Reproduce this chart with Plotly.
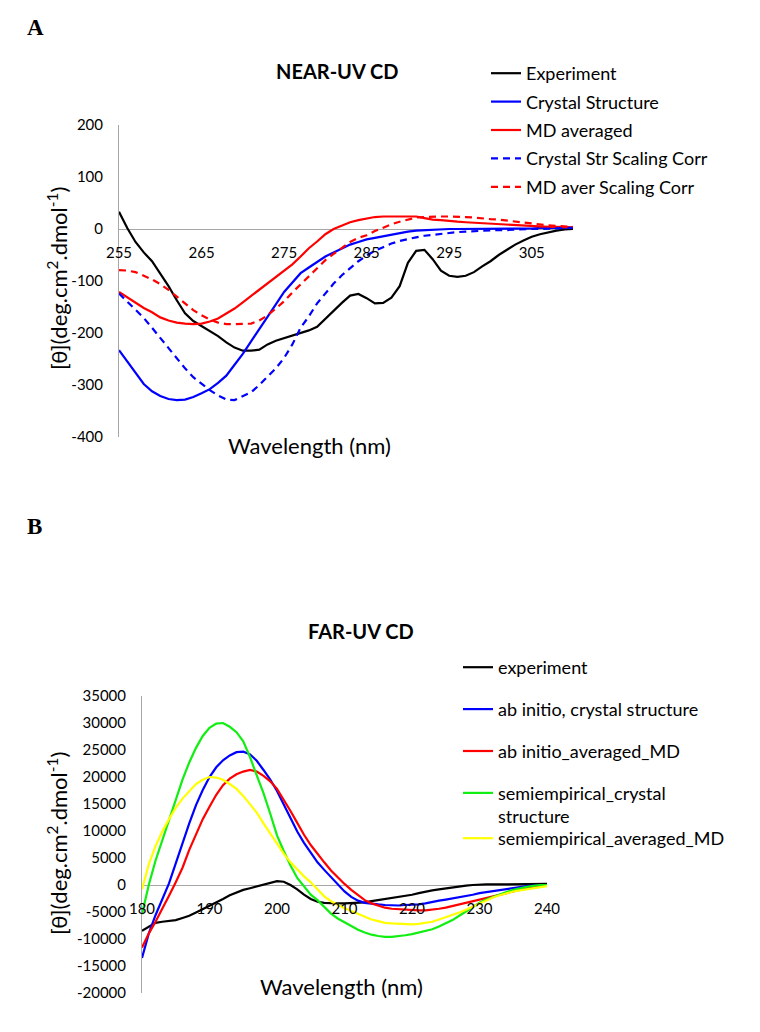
import plotly.graph_objects as go

W, H = 760, 1032

# ---------------- Panel A data (NEAR-UV CD) ----------------
wl_near = list(range(255, 311))
near_experiment = [33, 2, -25, -45, -62, -85, -110, -137, -162, -177, -187, -197, -206, -218, -228,
                   -234, -234, -232, -222, -215, -210, -205, -200, -195, -188, -172, -157, -142, -128,
                   -125, -133, -143, -142, -132, -110, -65, -42, -40, -58, -80, -90, -92, -90, -83,
                   -72, -62, -50, -40, -30, -22, -15, -10, -6, -3, -1, 0]
near_crystal = [-233, -255, -277, -298, -312, -321, -327, -329, -328, -323, -316, -308, -296, -282,
                -261, -240, -216, -193, -170, -145, -121, -102, -85, -74, -63, -53, -45, -37, -30,
                -25, -20, -17, -14, -10, -8, -5, -3, -2, -1, 0, 0, 0, 0, 0, 1, 1, 1, 1, 1, 1, 1, 2,
                2, 2, 2, 2]
near_md = [-121, -131, -142, -152, -160, -170, -176, -180, -182, -183, -182, -178, -172, -163, -153,
           -141, -129, -117, -105, -93, -80, -68, -53, -37, -24, -10, 0, 7, 13, 17, 20, 23, 24, 24,
           24, 24, 24, 21, 18, 17, 15, 14, 13, 12, 11, 10, 9, 8, 7, 6, 5, 5, 4, 4, 3, 3]
near_crystal_corr = [-124, -140, -155, -171, -190, -210, -230, -249, -268, -285, -298, -310, -320,
                     -328, -329, -322, -314, -300, -285, -268, -248, -222, -190, -168, -143, -123,
                     -105, -89, -75, -62, -51, -42, -35, -28, -23, -19, -16, -13, -11, -9, -7, -6,
                     -5, -4, -3, -2, -2, -2, -1, -1, 0, 0, 1, 1, 2, 2]
near_md_corr = [-79, -80, -83, -90, -97, -106, -117, -130, -143, -156, -166, -174, -180, -183, -183,
                -183, -182, -176, -166, -153, -139, -122, -106, -90, -75, -60, -48, -36, -25, -17,
                -12, -4, 3, 9, 14, 18, 22, 23, 24, 24, 24, 24, 23, 22, 20, 19, 18, 16, 14, 12, 10,
                8, 7, 6, 5, 4]
near_xticks = [255, 265, 275, 285, 295, 305]
near_yticks = [200, 100, 0, -100, -200, -300, -400]
near_yticklabels = ["200", "100", "0", "-100", "-200", "-300", "-400"]

# ---------------- Panel B data (FAR-UV CD) ----------------
wl_far = list(range(180, 241))
far_experiment = [-8500, -7800, -7000, -6800, -6600, -6500, -6100, -5700, -5100, -4500, -3900,
                  -3200, -2600, -1900, -1400, -900, -600, -300, 100, 400, 700, 600, 0, -800, -1800,
                  -2600, -3100, -3300, -3400, -3400, -3400, -3350, -3300, -3200, -3000, -2800,
                  -2600, -2500, -2300, -2100, -1800, -1500, -1200, -1000, -800, -600, -400, -200,
                  -100, 0, 100, 100, 100, 100, 100, 150, 150, 150, 200, 200, 200]
far_abinitio_crystal = [-13500, -9000, -5600, -2500, 300, 4000, 7800, 11400, 14800, 17600, 20000,
                        21800, 23100, 24000, 24600, 24700, 24200, 23000, 21300, 19500, 17400,
                        14900, 12300, 9900, 7800, 5900, 4200, 2800, 1500, 200, -1200, -2200, -2900,
                        -3300, -3500, -3600, -3700, -3800, -3800, -3700, -3700, -3600, -3400,
                        -3100, -2900, -2700, -2500, -2200, -2000, -1800, -1500, -1300, -1200, -900,
                        -700, -500, -300, -200, -100, 0, 0]
far_abinitio_md = [-11600, -9000, -6800, -4500, -2000, 500, 3200, 6500, 9500, 12200, 14500, 16700,
                   18500, 19700, 20500, 21000, 21300, 21000, 20200, 19200, 17800, 15800, 13700,
                   11500, 9300, 7400, 5700, 4200, 2700, 1400, 200, -900, -1900, -2800, -3400,
                   -3800, -4200, -4400, -4500, -4600, -4700, -4700, -4700, -4600, -4400, -4200,
                   -3900, -3600, -3200, -2900, -2600, -2300, -2000, -1800, -1500, -1200, -900,
                   -500, -300, -100, 0]
far_semi_crystal = [-5400, 0, 4500, 8200, 12300, 16000, 19500, 22700, 25400, 27600, 29100, 29900,
                    30000, 29300, 28300, 26600, 23700, 20300, 17000, 13200, 9200, 6300, 3600, 1300,
                    -300, -1800, -2800, -4000, -5300, -6200, -6900, -7700, -8300, -8800, -9200,
                    -9450, -9600, -9600, -9500, -9300, -9100, -8800, -8500, -8200, -7700, -7100,
                    -6500, -5700, -4900, -4000, -3300, -2700, -2200, -1700, -1300, -900, -600,
                    -350, -150, 0, 0]
far_semi_md = [-800, 3800, 7200, 9900, 12200, 14300, 16000, 17400, 18700, 19500, 20000, 19900,
               19500, 18700, 17800, 16500, 15000, 13400, 11400, 9500, 7500, 5800, 4200, 2800, 1600,
               500, -900, -2100, -3000, -3700, -4300, -4800, -5300, -5900, -6400, -6700, -7000,
               -7100, -7200, -7300, -7300, -7200, -7000, -6800, -6400, -6000, -5600, -5100, -4600,
               -4000, -3400, -2900, -2300, -1900, -1500, -1200, -1000, -800, -600, -400, -200]
far_xticks = [180, 190, 200, 210, 220, 230, 240]
far_yticks = [35000, 30000, 25000, 20000, 15000, 10000, 5000, 0, -5000, -10000, -15000, -20000]
far_yticklabels = ["35000", "30000", "25000", "20000", "15000", "10000", "5000", "0",
                   "-5000", "-10000", "-15000", "-20000"]

FONT = "Lato"
GRAY = "#a6a6a6"


def px_x(p):
    return p / W


def px_y(p):
    return 1 - p / H


# plot areas in pixels
A_dom_x = [px_x(119), px_x(573)]
A_dom_y = [px_y(437), px_y(125)]
B_dom_x = [px_x(142), px_x(547)]
B_dom_y = [px_y(993), px_y(696)]
A_range_y = [-400, 200]
B_range_y = [-20000, 35000]


def zero_pos(dom, rng):
    return dom[0] + (0 - rng[0]) / (rng[1] - rng[0]) * (dom[1] - dom[0])


fig = go.Figure()

near_series = [
    ("Experiment", near_experiment, "#000000", "solid"),
    ("Crystal Structure", near_crystal, "#0000ff", "solid"),
    ("MD averaged", near_md, "#ff0000", "solid"),
    ("Crystal Str Scaling Corr", near_crystal_corr, "#0000ff", "7px,5px"),
    ("MD aver Scaling Corr", near_md_corr, "#ff0000", "7px,5px"),
]
for i, (name, ys, col, dash) in enumerate(near_series):
    fig.add_trace(go.Scatter(x=wl_near, y=ys, mode="lines", name=name,
                             line=dict(color=col, width=2.2, dash=dash),
                             xaxis="x", yaxis="y", legend="legend", legendgroup=f"a{i}"))

far_series = [
    ("experiment", far_experiment, "#000000", "legend2", "b0"),
    ("ab initio, crystal structure", far_abinitio_crystal, "#0000ff", "legend2", "b1"),
    ("ab initio_averaged_MD", far_abinitio_md, "#ff0000", "legend2", "b2"),
    ("semiempirical_crystal<br>structure", far_semi_crystal, "#11ee11", "legend2", "b3"),
    ("semiempirical_averaged_MD", far_semi_md, "#ffff00", "legend3", "b4"),
]
for name, ys, col, leg, grp in far_series:
    fig.add_trace(go.Scatter(x=wl_far, y=ys, mode="lines", name=name,
                             line=dict(color=col, width=2.2),
                             xaxis="x2", yaxis="y2", legend=leg, legendgroup=grp))

tickfont = dict(family=FONT, size=15, color="#000000")
legfont = dict(family=FONT, size=18, color="#000000")
legfont2 = dict(family=FONT, size=18, color="#000000")

common_x = dict(showline=False, showgrid=False, zeroline=False, automargin=False,
                ticks="outside", ticklen=10, tickcolor="rgba(0,0,0,0)", tickfont=tickfont)
common_y = dict(showline=True, linecolor=GRAY, linewidth=1, showgrid=False, automargin=False,
                zeroline=True, zerolinecolor=GRAY, zerolinewidth=1,
                ticks="outside", ticklen=12, tickcolor="rgba(0,0,0,0)", tickfont=tickfont)

fig.update_layout(
    width=W, height=H, autosize=False,
    margin=dict(l=0, r=0, t=0, b=0, autoexpand=False),
    paper_bgcolor="white", plot_bgcolor="white",
    showlegend=True,
    xaxis=dict(domain=A_dom_x, range=[255, 310], tickvals=near_xticks,
               anchor="free", position=zero_pos(A_dom_y, A_range_y), **common_x),
    yaxis=dict(domain=A_dom_y, range=A_range_y, tickvals=near_yticks,
               ticktext=near_yticklabels, anchor="x", **common_y),
    xaxis2=dict(domain=B_dom_x, range=[180, 240], tickvals=far_xticks,
                anchor="free", position=zero_pos(B_dom_y, B_range_y), **common_x),
    yaxis2=dict(domain=B_dom_y, range=B_range_y, tickvals=far_yticks,
                ticktext=far_yticklabels, anchor="x2", **common_y),
    legend=dict(x=px_x(486), y=px_y(55), xanchor="left", yanchor="top",
                font=legfont, bgcolor="rgba(0,0,0,0)",
                tracegroupgap=2, traceorder="grouped"),
    legend2=dict(x=px_x(458), y=px_y(649), xanchor="left", yanchor="top",
                 font=legfont2, bgcolor="rgba(0,0,0,0)",
                 tracegroupgap=15.5, traceorder="grouped", valign="top"),
    legend3=dict(x=px_x(458), y=px_y(820), xanchor="left", yanchor="top",
                 font=legfont2, bgcolor="rgba(0,0,0,0)"),
)

ann = [
    dict(text="<b>A</b>", x=px_x(35), y=px_y(27), font=dict(family="Liberation Serif", size=23)),
    dict(text="<b>B</b>", x=px_x(34), y=px_y(526), font=dict(family="Liberation Serif", size=23)),
    dict(text="<b>NEAR-UV CD</b>", x=px_x(337), y=px_y(71), font=dict(family=FONT, size=20)),
    dict(text="<b>FAR-UV CD</b>", x=px_x(361), y=px_y(631), font=dict(family=FONT, size=20)),
    dict(text="Wavelength (nm)", x=px_x(309), y=px_y(445), font=dict(family=FONT, size=22)),
    dict(text="Wavelength (nm)", x=px_x(341), y=px_y(986), font=dict(family=FONT, size=22)),
    dict(text="[θ](deg.cm<sup>2</sup>.dmol<sup>-1</sup>)", x=px_x(57), y=px_y(279),
         textangle=-90, font=dict(family=FONT, size=22)),
    dict(text="[θ](deg.cm<sup>2</sup>.dmol<sup>-1</sup>)", x=px_x(57), y=px_y(844),
         textangle=-90, font=dict(family=FONT, size=22)),
]
for a in ann:
    a.update(xref="paper", yref="paper", showarrow=False, xanchor="center", yanchor="middle")
    a["font"]["color"] = "#000000"
fig.update_layout(annotations=ann)

fig.write_html("out.html", config={"displayModeBar": False},
               post_script="document.body.style.margin='0px';")
